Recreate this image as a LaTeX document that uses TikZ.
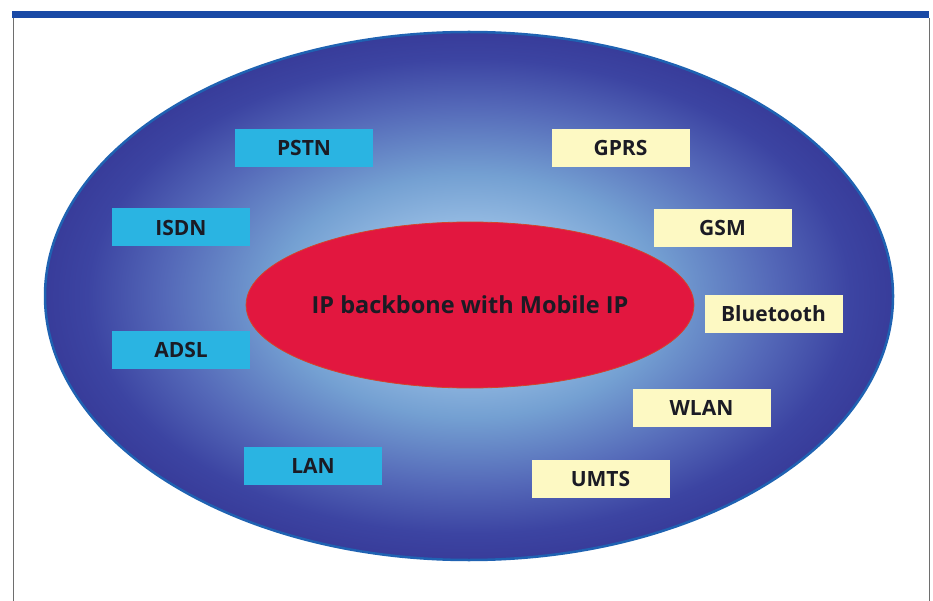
\documentclass[tikz,border=0pt]{standalone}
\usepackage{fontspec}
\setmainfont{Open Sans}
\usetikzlibrary{shapes.geometric}
\definecolor{barblue}{HTML}{1A4AA6}
\definecolor{framegray}{HTML}{6E6E6E}
\definecolor{rimblue}{HTML}{1F62B2}
\definecolor{gradlight}{HTML}{B8D6F0}
\definecolor{gradpale}{HTML}{A0C4E8}
\definecolor{gradmid}{HTML}{74A0D2}
\definecolor{graddeep}{HTML}{5468B8}
\definecolor{gradnavy}{HTML}{3C44A2}
\definecolor{graddark}{HTML}{383C9A}
\definecolor{corered}{HTML}{E2173F}
\definecolor{coreedge}{HTML}{D2452A}
\definecolor{cyanfill}{HTML}{2AB4E2}
\definecolor{yellowfill}{HTML}{FDF9C3}
\definecolor{labeltext}{HTML}{1B1B24}
\pgfdeclareradialshading{bluehalo}{\pgfpoint{0bp}{0bp}}{%
  color(0bp)=(gradlight); color(5bp)=(gradpale); color(11.5bp)=(gradmid);
  color(18bp)=(graddeep); color(22.5bp)=(gradnavy); color(25bp)=(graddark);
  color(50bp)=(graddark)}
\tikzset{
  netbox/.style={rectangle, minimum width=138pt, minimum height=38pt,
    inner sep=0pt, font=\fontsize{21}{24}\selectfont\bfseries, text=labeltext},
  wiredbox/.style={netbox, fill=cyanfill},
  wirelessbox/.style={netbox, fill=yellowfill},
}
\begin{document}
\begin{tikzpicture}[x=1pt,y=-1pt]
\useasboundingbox (0,0) rectangle (933,601);
% frame
\fill[barblue] (12,11) rectangle (929,18);
\draw[framegray, line width=1pt] (13.5,18) -- (13.5,601);
\draw[framegray, line width=1pt] (929.5,18) -- (929.5,601);
% outer ellipse
\node[ellipse, minimum width=848pt, minimum height=528pt, inner sep=0pt,
  shading=bluehalo, draw=rimblue, line width=2.5pt] (outer) at (469,296) {};
% core
\node[ellipse, minimum width=354pt, minimum height=166pt, inner sep=0pt,
  fill=corered, draw=coreedge, line width=0.8pt, text=labeltext,
  font=\fontsize{23.5}{26}\selectfont\bfseries] (core) at (470,305) {IP backbone with Mobile IP};
% wired
\node[wiredbox] (pstn) at (304,148.5) {PSTN};
\node[wiredbox] (isdn) at (181,227.5) {ISDN};
\node[wiredbox] (adsl) at (181,350) {ADSL};
\node[wiredbox] (lan) at (313,465.5) {LAN};
% wireless
\node[wirelessbox] (gprs) at (620.5,148) {GPRS};
\node[wirelessbox] (gsm) at (722.5,228) {GSM};
\node[wirelessbox] (bt) at (773.5,313.5) {Bluetooth};
\node[wirelessbox] (wlan) at (701.5,407.5) {WLAN};
\node[wirelessbox] (umts) at (600.5,479) {UMTS};
\end{tikzpicture}
\end{document}
